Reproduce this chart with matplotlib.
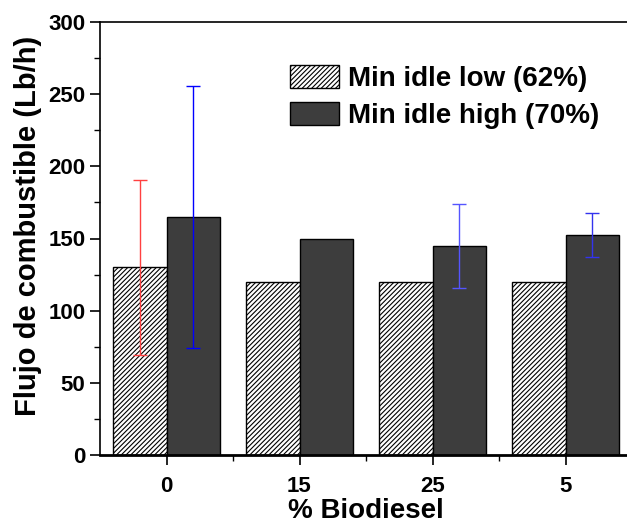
import matplotlib
matplotlib.use("Agg")
import matplotlib.pyplot as plt
from matplotlib.ticker import MultipleLocator
import numpy as np

plt.rcParams["font.family"] = ["Liberation Sans", "DejaVu Sans"]
plt.rcParams["font.weight"] = "bold"
plt.rcParams["hatch.linewidth"] = 0.8

categories = ["0", "15", "25", "5"]
low_vals = [130, 120, 120, 120]
high_vals = [165, 150, 145, 152.5]
low_err = [60.5, 0, 0, 0]
high_err = [91, 0, 29, 15]
low_err_color = ["#ff4040", None, None, None]
high_err_color = ["#0000ff", None, "#5555ff", "#3333ee"]

fig = plt.figure(figsize=(6.27, 5.26), dpi=100)
ax = fig.add_axes([100 / 627, 71 / 526, 532 / 627, 433 / 526])

x = np.arange(len(categories))
w = 0.4
ax.bar(x - w / 2, low_vals, w, color="white", edgecolor="black",
       hatch="///////", linewidth=1, label="Min idle low (62%)", zorder=2)
ax.bar(x + w / 2, high_vals, w, color="#3d3d3d", edgecolor="black",
       linewidth=1, label="Min idle high (70%)", zorder=2)

for i in range(len(categories)):
    if low_err[i] > 0:
        ax.errorbar(x[i] - w / 2, low_vals[i], yerr=low_err[i], fmt="none",
                    ecolor=low_err_color[i], elinewidth=1, capsize=5,
                    capthick=1, zorder=3)
    if high_err[i] > 0:
        ax.errorbar(x[i] + w / 2, high_vals[i], yerr=high_err[i], fmt="none",
                    ecolor=high_err_color[i], elinewidth=1, capsize=5,
                    capthick=1, zorder=3)

ax.set_xlim(-0.5, 3.5)
ax.set_ylim(0, 300)
ax.set_xticks(x)
ax.set_xticklabels(categories)
ax.set_xticks(x + 0.5, minor=True)
ax.yaxis.set_major_locator(MultipleLocator(50))
ax.yaxis.set_minor_locator(MultipleLocator(25))
ax.tick_params(axis="both", which="major", direction="out", length=7,
               width=1.2, labelsize=16)
ax.tick_params(axis="x", which="major", pad=8)
ax.tick_params(axis="both", which="minor", direction="out", length=4,
               width=1)

ax.spines["right"].set_visible(False)
ax.spines["bottom"].set_linewidth(2)
ax.spines["left"].set_linewidth(1.2)
ax.spines["top"].set_linewidth(1.2)

ax.set_ylabel("Flujo de combustible (Lb/h)", fontsize=21, fontweight="bold")
ax.yaxis.set_label_coords(-58 / 532, 0.53)
ax.set_xlabel("% Biodiesel", fontsize=20, fontweight="bold", labelpad=1)

ax.legend(loc="upper left", bbox_to_anchor=(290 / 627, 1 - 65 / 526),
          bbox_transform=fig.transFigure, frameon=False, fontsize=20,
          handlelength=1.75, handleheight=0.9, labelspacing=0.35,
          handletextpad=0.35, borderpad=0, borderaxespad=0)

fig.savefig("out.png", dpi=100)
